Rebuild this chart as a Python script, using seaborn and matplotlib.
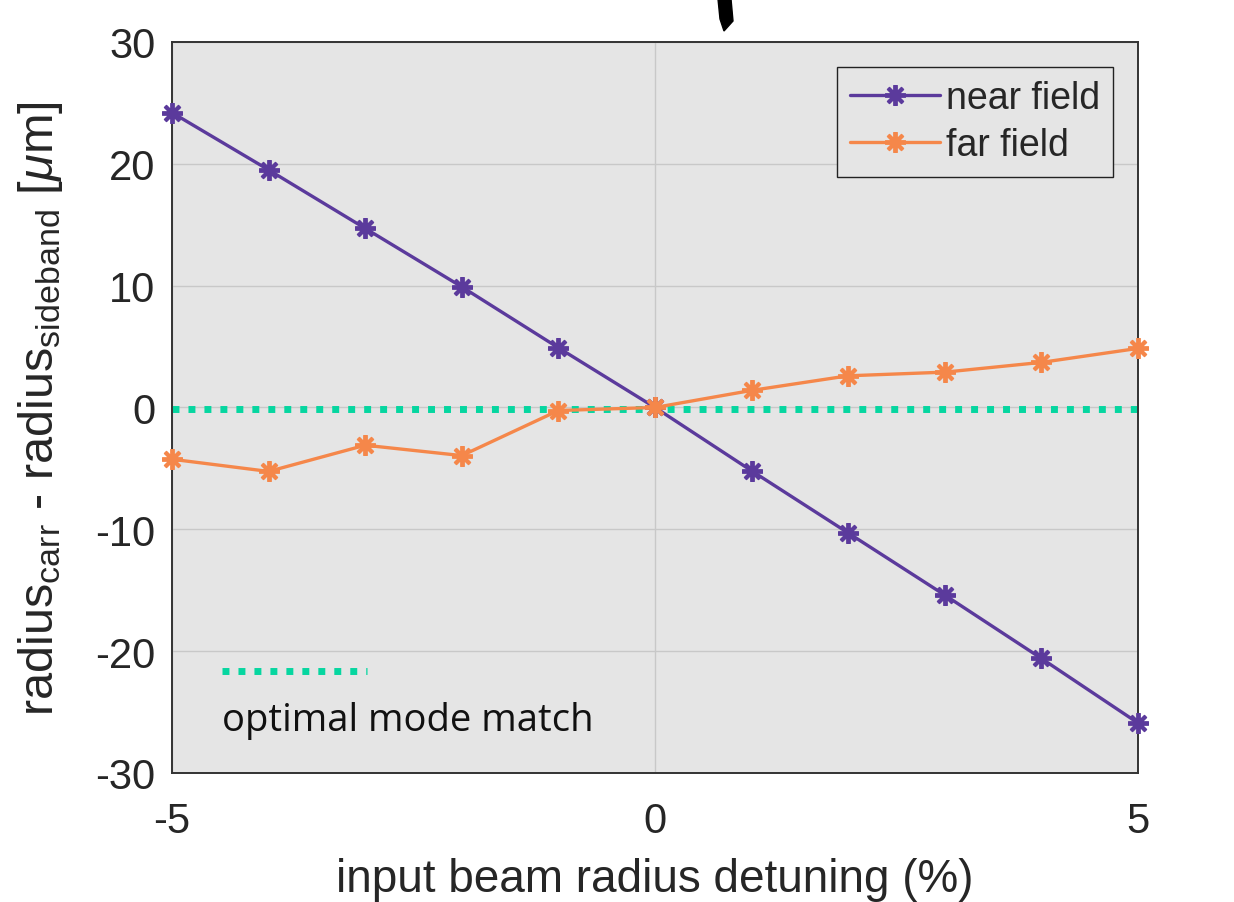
import matplotlib
matplotlib.use("Agg")
import matplotlib.pyplot as plt
import seaborn as sns
import pandas as pd
import numpy as np
from matplotlib.patches import Polygon

detuning = [-5, -4, -3, -2, -1, 0, 1, 2, 3, 4, 5]
near_field = [24.2, 19.5, 14.7, 9.9, 4.9, 0.0, -5.2, -10.3, -15.4, -20.6, -25.9]
far_field = [-4.25, -5.25, -3.1, -3.95, -0.25, 0.0, 1.4, 2.6, 2.9, 3.7, 4.85]
optimal_level = -0.15
series_names = ["near field", "far field"]
series_colors = ["#5B3A9C", "#F5874A"]
opt_color = "#06D6A0"
xticks = [-5, 0, 5]
yticks = [-30, -20, -10, 0, 10, 20, 30]

df = pd.DataFrame({
    "x": detuning * 2,
    "y": near_field + far_field,
    "series": [series_names[0]] * len(detuning) + [series_names[1]] * len(detuning),
})

sns.set_theme(style="whitegrid")
plt.rcParams["font.family"] = ["Liberation Sans", "DejaVu Sans"]
plt.rcParams["mathtext.fontset"] = "custom"
plt.rcParams["mathtext.rm"] = "Liberation Sans"
plt.rcParams["mathtext.it"] = "Liberation Sans:italic"
plt.rcParams["axes.unicode_minus"] = False

fig = plt.figure(figsize=(12.34, 9.03), dpi=100)
ax = fig.add_axes([0.1394, 0.1429, 0.7828, 0.8095])
ax.set_facecolor("#E5E5E5")

# optimal mode match dotted line
ax.plot([-5, 5], [optimal_level, optimal_level], color=opt_color, lw=5,
        linestyle=(0, (1.0, 1.3)), dash_capstyle="butt", zorder=1.5)

sns.lineplot(data=df, x="x", y="y", hue="series", palette=series_colors,
             marker=(8, 2, 0), markersize=15, markeredgewidth=2.8, linewidth=2.4,
             ax=ax, zorder=3, clip_on=False)
for ln, c in zip(ax.lines[1:], series_colors):
    ln.set_markeredgecolor(c)
    ln.set_markerfacecolor(c)

ax.set_xlim(-5, 5)
ax.set_ylim(-30, 30)
ax.set_xticks(xticks)
ax.set_yticks(yticks)
ax.tick_params(axis="both", labelsize=30, direction="in", length=6, width=1.2,
               color="#222222", labelcolor="#262626")
ax.tick_params(axis="x", pad=20)
ax.tick_params(axis="y", pad=12)
ax.grid(True, color="#C8C8C8", linewidth=1.0)
for s in ax.spines.values():
    s.set_visible(True)
    s.set_color("#333333")
    s.set_linewidth(1.4)

ax.set_xlabel("input beam radius detuning (%)", fontsize=33, color="#262626", labelpad=12)
ax.set_ylabel(r"radius$_{\mathrm{carr}}$ - radius$_{\mathrm{sideband}}$ [$\mu$m]",
              fontsize=35, color="#262626", labelpad=22)

leg = ax.legend(loc="upper right", fontsize=27, frameon=True, fancybox=False,
                handlelength=2.4, borderaxespad=0.67, handletextpad=0.15,
                borderpad=0.35, labelspacing=0.3)
leg.get_frame().set_edgecolor("#222222")
leg.get_frame().set_facecolor("#E5E5E5")
leg.get_frame().set_linewidth(1.0)
leg.get_frame().set_alpha(1)
for h, c in zip(leg.legend_handles, series_colors):
    h.set_markeredgecolor(c)
    h.set_markerfacecolor(c)
    h.set_markeredgewidth(2.8)
    h.set_linewidth(2.4)

# annotation for optimal mode match
ax.plot([0.052, 0.202], [0.14, 0.14], transform=ax.transAxes, color=opt_color,
        lw=5, linestyle=(0, (1.0, 1.3)), dash_capstyle="butt")
ax.text(0.052, 0.072, "optimal mode match", transform=ax.transAxes, fontsize=27.5,
        family=["Open Sans", "DejaVu Sans"], color="#111111", va="center", ha="left")

# decorative black brush stroke above the chart
stroke = Polygon([[718 / 1234, 1.0], [731 / 1234, 1.0], [733 / 1234, 1 - 22 / 903],
                  [724 / 1234, 1 - 32 / 903], [720 / 1234, 1 - 20 / 903]],
                 closed=True, transform=fig.transFigure, color="black")
fig.patches.append(stroke)

fig.savefig("out.png", dpi=100)
